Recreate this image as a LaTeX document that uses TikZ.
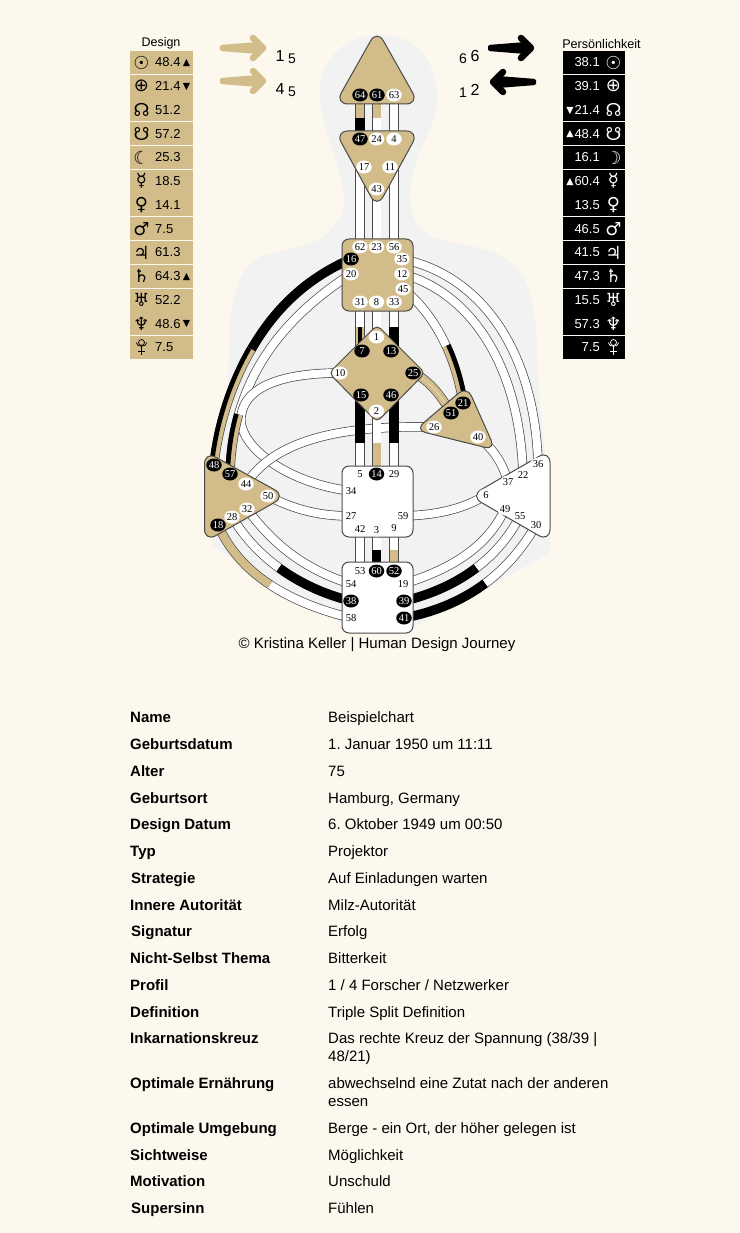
\documentclass[tikz,border=0pt]{standalone}
\usepackage{fontspec}
\usetikzlibrary{shapes.geometric,calc}
\setmainfont{Liberation Sans}
\newfontfamily\gatefont{Liberation Serif}
\newfontfamily\symfont{DejaVu Sans}
\newcommand\fsz[1]{\fontsize{#1}{#1}\selectfont}
\frenchspacing
\definecolor{pagebg}{HTML}{FCF8EE}
\definecolor{bodygray}{HTML}{F2F2F2}
\definecolor{tanc}{HTML}{D2BC8A}
\definecolor{tanl}{HTML}{E2D3B0}
\definecolor{edgec}{HTML}{4A4A4A}
\pgfdeclarelayer{sil}
\pgfdeclarelayer{chanlayer}
\pgfdeclarelayer{centlayer}
\pgfsetlayers{sil,chanlayer,centlayer,main}
\tikzset{
  chanW/.style={draw=edgec,line width=.7pt,double=white,double distance=8pt},
  chanT/.style={draw=edgec,line width=.7pt,double=tanc,double distance=8pt},
  chanK/.style={draw=black,line width=.7pt,double=black,double distance=8pt},
  halfK/.style={draw=black,line width=4.6pt},
  cent/.style={draw=edgec,line width=1pt,rounded corners=7pt,line join=round},
  tri/.style={rounded corners=13pt},
  gateW/.style={ellipse,fill=white,inner sep=0pt,minimum width=15.5pt,minimum height=13pt,font=\gatefont\fsz{10.5},text=black},
  gateK/.style={ellipse,fill=black,inner sep=0pt,minimum width=15.5pt,minimum height=13pt,font=\gatefont\fsz{10.5},text=white},
  rowD/.style={fill=tanc,minimum width=63pt,minimum height=23pt,inner sep=0pt},
  rowP/.style={fill=black,minimum width=62pt,minimum height=23pt,inner sep=0pt},
  keytext/.style={anchor=base west,inner sep=0pt,font=\bfseries\fsz{15}},
  valtext/.style={anchor=base west,inner sep=0pt,font=\fsz{15}},
  planetnum/.style={inner sep=0pt,font=\fsz{13}},
  planetsym/.style={inner sep=0pt,font=\symfont\fsz{18}},
  trimark/.style={inner sep=0pt,font=\symfont\fsz{9.5}},
  bignum/.style={inner sep=0pt,font=\fsz{16}},
  smallnum/.style={inner sep=0pt,font=\fsz{14}},
}
\newcommand\bigarrow[4]{%
  \begin{scope}[shift={(#1,#2)},xscale=#4]
    \fill[#3,rounded corners=1.5pt] (0,-3) -- (38,-6) -- (38,6) -- (0,3) -- cycle;
    \draw[#3,line width=6.5pt,line cap=round,line join=round] (33,-10) -- (43,0) -- (33,10);
  \end{scope}}
\newcommand\plutoglyph[3]{%
  \begin{scope}[shift={(#1,#2)},draw=#3,line width=.75pt]
    \draw (0,-4.5) circle[radius=3pt];
    \draw (-5.2,-4.5) .. controls (-5.2,.5) and (5.2,.5) .. (5.2,-4.5);
    \draw (0,-1.3) -- (0,8);
    \draw (-3.2,4.5) -- (3.2,4.5);
  \end{scope}}
\newcommand\tablerow[5]{%
  \node[keytext] (k#1) at (#3,#2) {#4};
  \node[valtext] (v#1) at (328,#2) {#5};}
\begin{document}
\begin{tikzpicture}[x=1pt,y=-1pt]
\useasboundingbox (0,0) rectangle (739,1233);
\begin{pgfonlayer}{sil}
\fill[pagebg] (0,0) rectangle (739,1233);
\fill[bodygray] (377,35) .. controls (405,33) and (437,50) .. (437,100)
  .. controls (437,130) and (410,155) .. (410,195)
  .. controls (410,225) and (425,238) .. (450,242)
  .. controls (480,248) and (500,250) .. (517,268)
  .. controls (535,290) and (537,330) .. (537,358)
  .. controls (540,420) and (550,480) .. (550,553)
  -- (413,628) -- (340,622) -- (213,547) -- (213,540)
  .. controls (222,450) and (229,400) .. (229,342)
  .. controls (229,300) and (240,262) .. (265,255)
  .. controls (290,248) and (320,245) .. (330,230)
  .. controls (345,215) and (345,205) .. (343,192)
  .. controls (340,160) and (320,130) .. (320,92)
  .. controls (320,55) and (350,35) .. (377,35) -- cycle;
\end{pgfonlayer}

% gates
\foreach \nm/\gx/\gy in {64/360/95,61/377/95,47/360/139,16/351/259,7/362/351,13/391/351,15/361/395,46/391/395,25/413/373,21/463/403,51/451/413,48/214/465,57/230/474,18/218/525,14/376.5/474,60/376.5/571,52/394/571,38/351/601,39/404/601,41/404/618}
  \node[gateK] (g\nm) at (\gx,\gy) {\nm};
\foreach \nm/\gx/\gy in {63/394/95,24/376.5/139,4/394/139,17/364/167,11/390/167,43/376.5/189,62/360/247,23/376.5/247,56/394/247,35/402/259,20/351/274,12/402/274,45/403/289,31/360/302,8/376.5/302,33/394/302,1/376.5/337,10/340/373,2/376.5/411,26/434/427,40/478/437,44/246/484,50/268/496,32/247/509,28/232/517,5/360/474,29/394/474,34/351/491,27/351/516,59/403/516,42/360/529,3/376.5/530,9/394/528,53/360/571,54/351/584,19/403/584,58/351/618,36/538/464,22/523/475,37/508/482,6/486/495,49/505/509,55/520/516,30/536/525}
  \node[gateW] (g\nm) at (\gx,\gy) {\nm};

\begin{pgfonlayer}{chanlayer}
% split points on the curved channels
\coordinate (m4816) at (251.4,349.25);
\coordinate (m5720) at (238.6,414.5);
\coordinate (m2838) at (279.1,568);
\coordinate (m1858) at (269.9,584.6);
\coordinate (m3955) at (476.25,567.9);
\coordinate (m4130) at (485,583.5);
\coordinate (m4521) at (446.2,346);
% 48-16
\draw[chanK] (m4816) .. controls (272.75,312.25) and (303.5,279.5) .. (g16.center);
\draw[chanT] (g48.center) .. controls (218,427.5) and (230,386.25) .. (m4816);
\draw[halfK] (211.6,464.8) .. controls (215.6,427.2) and (227.9,385) .. (249.3,348);
% 57-20
\draw[chanW] (m5720) .. controls (254.4,358.4) and (291.75,312.25) .. (g20.center);
% 10-34
\draw[chanW] (g10.center) .. controls (305,373) and (245,378) .. (241,417)
   .. controls (238,445) and (285,483) .. (g34.center);
\draw[chanT] (g57.center) .. controls (230.5,453) and (233.4,433.2) .. (m5720);
\draw[halfK] (227.7,474) .. controls (228.2,453) and (231.1,432.7) .. (236.4,413.9);
% 26-44
\draw[chanW] (g26.center) .. controls (340,425) and (275,440) .. (g44.center);
% 50-27, 6-59
\draw[chanW] (g50.center) .. controls (295,510) and (320,516) .. (g27.center);
\draw[chanW] (g6.center) .. controls (465,508) and (440,515) .. (g59.center);
% root to spleen
\draw[chanW] (g32.center) .. controls (270,540) and (300,568) .. (g54.center);
\draw[chanW] (g28.center) .. controls (243.5,536) and (259.25,553.5) .. (m2838);
\draw[chanK] (m2838) .. controls (299,582.5) and (323,594) .. (g38.center);
\draw[chanW] (m1858) .. controls (292.75,599.75) and (320.5,610.5) .. (g58.center);
\draw[chanT] (g18.center) .. controls (229,550) and (247,569.5) .. (m1858);
% root to solar plexus
\draw[chanW] (g49.center) .. controls (488,545) and (455,568) .. (g19.center);
\draw[chanW] (g55.center) .. controls (510,535.5) and (495.5,553.25) .. (m3955);
\draw[chanK] (m3955) .. controls (457,582.5) and (433,594) .. (g39.center);
\draw[chanW] (g30.center) .. controls (523,547.5) and (506.5,567.5) .. (m4130);
\draw[chanK] (m4130) .. controls (463.5,599.5) and (437,611.5) .. (g41.center);
% throat to solar plexus, heart
\draw[chanW] (g35.center) .. controls (480,275) and (535,350) .. (g36.center);
\draw[chanW] (g12.center) .. controls (470,292) and (520,365) .. (g22.center);
\draw[chanW] (g45.center) .. controls (419.2,301.6) and (434.7,321) .. (m4521);
\draw[chanT] (m4521) .. controls (453.9,362.7) and (459.8,381.8) .. (g21.center);
\draw[halfK] (448.3,345) .. controls (456,361.9) and (462,381.5) .. (465.3,402.7);
\draw[chanT] (g25.center) .. controls (425,378) and (438,390) .. (g51.center);
\draw[tanl,line width=1pt] (g25.center) .. controls (425,378) and (438,390) .. (g51.center);
\draw[chanW] (g40.center) .. controls (495,450) and (503,465) .. (g37.center);
% verticals
\coordinate (c6447) at (360,118);
\coordinate (c6124) at (376.5,118);
\draw[chanT] (g64.center) -- (c6447);
\draw[chanK] (c6447) -- (g47.center);
\draw[chanT] (g24.center |- g61.center) -- (c6124);
\draw[chanW] (c6124) -- (g24.center);
\draw[chanW] (g63.center) -- (g4.center);
\draw[chanW] (g62.center) -- (g62.center |- g17.center);
\draw[chanW] (g23.center) -- (g43.center);
\draw[chanW] (g56.center) -- (g56.center |- g11.center);
\coordinate (c317) at (360,327);
\coordinate (c3313) at (394,327);
\draw[chanW] (g31.center) -- (c317);
\draw[chanT] (c317) -- (c317 |- g7.center);
\draw[halfK,xshift=2.2pt] (c317) -- (c317 |- g7.center);
\draw[chanW] (g8.center) -- (g1.center);
\draw[chanW] (g33.center) -- (c3313);
\draw[chanK] (c3313) -- (c3313 |- g13.center);
\coordinate (c155) at (360,443);
\coordinate (c214) at (376.5,443);
\coordinate (c4629) at (394,443);
\coordinate (c360) at (376.5,550);
\coordinate (c952) at (394,550);
\draw[chanK] (c155 |- g15.center) -- (c155);
\draw[chanW] (c155) -- (g5.center);
\draw[chanW] (g2.center) -- (c214);
\draw[chanT] (c214) -- (g14.center);
\draw[chanK] (c4629 |- g46.center) -- (c4629);
\draw[chanW] (c4629) -- (g29.center);
\draw[chanW] (g42.center) -- (g53.center);
\draw[chanW] (g3.center) -- (c360);
\draw[chanK] (c360) -- (g60.center);
\draw[chanW] (g9.center) -- (c952);
\draw[chanT] (c952) -- (g52.center);
\end{pgfonlayer}

% centres
\begin{pgfonlayer}{centlayer}
\draw[cent,tri,fill=tanc] (377,104) -- (335,104) -- (377,29.5) -- (419,104) -- cycle;
\draw[cent,tri,fill=tanc] (377,131) -- (419,131) -- (377,208) -- (335,131) -- cycle;
\draw[cent,fill=tanc] (342,239) rectangle (413,311);
\draw[cent,fill=tanc,rounded corners=5pt] (353,349) -- (377,325) -- (425,373) -- (377,422) -- (329,373) -- cycle;
\draw[cent,fill=tanc,rounded corners=11pt] (441,408) -- (467,386) -- (495.5,450) -- (415,430) -- cycle;
\draw[cent,tri,fill=tanc] (204.5,496) -- (204.5,451) -- (286,496) -- (204.5,542) -- cycle;
\draw[cent,fill=white] (342,466) rectangle (413,537);
\draw[cent,fill=white] (342,562) rectangle (413,633);
\draw[cent,tri,fill=white] (550,496) -- (550,542) -- (470,496) -- (550,450) -- cycle;
\end{pgfonlayer}

% planet tables
\node[inner sep=0pt,font=\fsz{12.5}] (designtitle) at (161,43.5) {Design};
\node[inner sep=0pt,font=\fsz{12.6}] (perstitle) at (601.5,43.5) {Persönlichkeit};
\foreach \i/\sym/\num in {0/☉/48.4,1/⊕/21.4,2/☊/51.2,3/☋/57.2,4/☾/25.3,5/☿/18.5,6/♀/14.1,7/♂/7.5,8/♃/61.3,9/♄/64.3,10/♅/52.2,11/♆/48.6,12/{}/7.5}{
  \pgfmathsetmacro\ry{62.5+23.75*\i}
  \node[rowD] (dr\i) at (161.5,\ry) {};
  \node[planetsym] (ds\i) at (141.5,\ry) {\sym};
  \node[planetnum,anchor=west] (dn\i) at (155,\ry) {\num};
}
\foreach \i/\sym/\num in {0/☉/38.1,1/⊕/39.1,2/☊/21.4,3/☋/48.4,4/☽/16.1,5/☿/60.4,6/♀/13.5,7/♂/46.5,8/♃/41.5,9/♄/47.3,10/♅/15.5,11/♆/57.3,12/{}/7.5}{
  \pgfmathsetmacro\ry{62.5+23.75*\i}
  \node[rowP] (pr\i) at (594,\ry) {};
  \node[planetsym,text=white] (ps\i) at (613.5,\ry) {\sym};
  \node[planetnum,anchor=east,text=white] (pn\i) at (600,\ry) {\num};
}
\plutoglyph{141.5}{347}{black}
\plutoglyph{613.5}{347}{white}
\node[trimark] (dt0) at (186.5,63) {▲};
\node[trimark] (dt1) at (186.5,87) {▼};
\node[trimark] (dt9) at (186.5,277) {▲};
\node[trimark] (dt11) at (186.5,324) {▼};
\node[trimark,text=white] (pt2) at (570,111) {▼};
\node[trimark,text=white] (pt3) at (570,134) {▲};
\node[trimark,text=white] (pt5) at (570,182) {▲};

% arrows and profile numbers
\bigarrow{220}{48}{tanc}{1}
\bigarrow{220}{81}{tanc}{1}
\bigarrow{488}{48}{black}{1}
\bigarrow{536}{82}{black}{-1}
\node[bignum] (a1) at (280,56) {1};
\node[smallnum] (a2) at (292,59) {5};
\node[bignum] (a3) at (280,89) {4};
\node[smallnum] (a4) at (292,92) {5};
\node[smallnum] (b1) at (463,59) {6};
\node[bignum] (b2) at (475,56) {6};
\node[smallnum] (b3) at (463,93) {1};
\node[bignum] (b4) at (475,90) {2};

\node[inner sep=0pt,font=\fsz{15}] (copy) at (377,644.5) {© Kristina Keller | Human Design Journey};

% details table
\tablerow{a}{722}{130}{Name}{Beispielchart}
\tablerow{b}{749}{130}{Geburtsdatum}{1. Januar 1950 um 11:11}
\tablerow{c}{776}{130}{Alter}{75}
\tablerow{d}{803}{130}{Geburtsort}{Hamburg, Germany}
\tablerow{e}{829}{130}{Design Datum}{6. Oktober 1949 um 00:50}
\tablerow{f}{856}{130}{Typ}{Projektor}
\tablerow{g}{883}{131}{Strategie}{Auf Einladungen warten}
\tablerow{h}{910}{130}{Innere Autorität}{Milz-Autorität}
\tablerow{i}{936}{131}{Signatur}{Erfolg}
\tablerow{j}{963}{130}{Nicht-Selbst Thema}{Bitterkeit}
\tablerow{k}{990}{130}{Profil}{1 / 4 Forscher / Netzwerker}
\tablerow{l}{1017}{130}{Definition}{Triple Split Definition}
\tablerow{m}{1043}{130}{Inkarnationskreuz}{Das rechte Kreuz der Spannung (38/39 |}
\node[valtext] (v2m) at (328,1061) {48/21)};
\tablerow{n}{1088}{130}{Optimale Ernährung}{abwechselnd eine Zutat nach der anderen}
\node[valtext] (v2n) at (328,1106) {essen};
\tablerow{o}{1133}{130}{Optimale Umgebung}{Berge - ein Ort, der höher gelegen ist}
\tablerow{p}{1160}{130}{Sichtweise}{Möglichkeit}
\tablerow{q}{1186}{130}{Motivation}{Unschuld}
\tablerow{r}{1213}{131}{Supersinn}{Fühlen}
\end{tikzpicture}
\end{document}
